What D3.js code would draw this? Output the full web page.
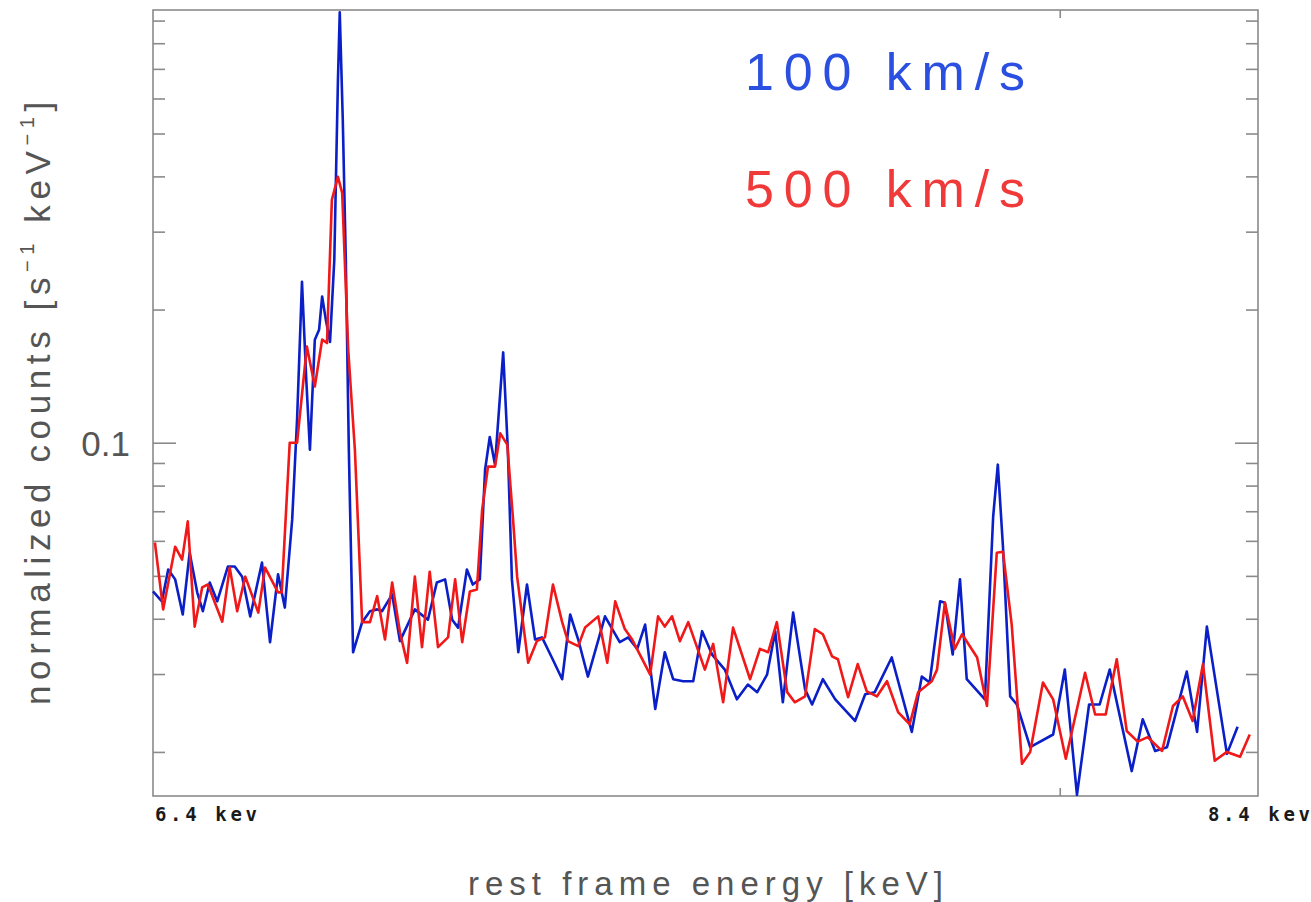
<!DOCTYPE html>
<html>
<head>
<meta charset="utf-8">
<script src="https://cdn.jsdelivr.net/npm/d3@7"></script>
<style>
  html, body { margin: 0; padding: 0; background: #fff; }
  svg { display: block; }
</style>
</head>
<body>
<svg id="chart" width="1311" height="902"></svg>
<script>
// ---------------- data ----------------
const seriesNames = ["100 km/s", "500 km/s"];

const blueEnergy = [6.400,6.414,6.424,6.435,6.447,6.458,6.470,6.479,6.490,6.502,6.519,6.530,6.542,6.555,6.574,6.587,6.600,6.611,6.623,6.631,6.639,6.646,6.652,6.660,6.667,6.672,6.678,6.685,6.692,6.698,6.701,6.706,6.711,6.716,6.723,6.738,6.751,6.763,6.771,6.788,6.801,6.826,6.848,6.863,6.877,6.889,6.899,6.914,6.924,6.936,6.945,6.953,6.962,6.976,6.984,6.991,7.002,7.017,7.031,7.043,7.060,7.078,7.092,7.106,7.123,7.153,7.179,7.194,7.210,7.224,7.242,7.259,7.274,7.292,7.310,7.326,7.344,7.367,7.389,7.409,7.426,7.444,7.459,7.473,7.492,7.514,7.527,7.547,7.570,7.607,7.626,7.644,7.676,7.714,7.733,7.748,7.768,7.777,7.792,7.806,7.819,7.854,7.870,7.879,7.889,7.903,7.916,7.942,7.987,8.010,8.034,8.058,8.079,8.099,8.143,8.165,8.190,8.214,8.254,8.275,8.295,8.336,8.358];
const blueCounts = [0.0461,0.0438,0.0517,0.0491,0.0409,0.0564,0.0459,0.0416,0.0483,0.0438,0.0525,0.0525,0.0498,0.0405,0.0536,0.0354,0.0504,0.0424,0.0670,0.113,0.231,0.139,0.0964,0.171,0.180,0.214,0.190,0.169,0.259,0.660,0.940,0.536,0.259,0.0964,0.0336,0.0393,0.0416,0.0420,0.0416,0.0454,0.0356,0.0420,0.0398,0.0483,0.0491,0.0398,0.0382,0.0517,0.0478,0.0491,0.0869,0.103,0.0892,0.160,0.0964,0.0491,0.0336,0.0478,0.0359,0.0363,0.0327,0.0292,0.0409,0.0359,0.0296,0.0405,0.0354,0.0363,0.0342,0.0388,0.0250,0.0336,0.0292,0.0289,0.0289,0.0375,0.0332,0.0307,0.0263,0.0284,0.0273,0.0299,0.0375,0.0259,0.0413,0.0277,0.0256,0.0292,0.0263,0.0235,0.0270,0.0273,0.0327,0.0222,0.0296,0.0287,0.0438,0.0435,0.0332,0.0491,0.0292,0.0263,0.0681,0.0892,0.0582,0.0267,0.0256,0.0205,0.0219,0.0307,0.0160,0.0256,0.0256,0.0307,0.0181,0.0237,0.0201,0.0205,0.0304,0.0222,0.0384,0.0198,0.0228];

const redEnergy = [6.403,6.416,6.435,6.446,6.455,6.466,6.478,6.487,6.510,6.522,6.534,6.547,6.568,6.579,6.600,6.606,6.619,6.631,6.647,6.660,6.672,6.680,6.688,6.698,6.705,6.715,6.726,6.738,6.751,6.763,6.776,6.788,6.801,6.813,6.826,6.838,6.851,6.865,6.882,6.894,6.906,6.919,6.931,6.940,6.950,6.962,6.971,6.983,6.993,7.000,7.019,7.034,7.048,7.062,7.078,7.088,7.106,7.118,7.141,7.157,7.171,7.188,7.201,7.233,7.247,7.259,7.272,7.286,7.301,7.331,7.346,7.364,7.382,7.413,7.431,7.446,7.462,7.481,7.495,7.514,7.532,7.547,7.564,7.575,7.594,7.612,7.629,7.648,7.667,7.688,7.710,7.726,7.752,7.762,7.777,7.796,7.810,7.839,7.858,7.877,7.889,7.906,7.926,7.942,7.967,7.987,8.012,8.050,8.070,8.091,8.113,8.133,8.155,8.175,8.204,8.226,8.246,8.266,8.287,8.311,8.336,8.363,8.383];
const redCounts = [0.0595,0.0420,0.0582,0.0544,0.0664,0.0384,0.0471,0.0478,0.0394,0.0522,0.0416,0.0498,0.0413,0.0522,0.0459,0.0459,0.100,0.100,0.165,0.134,0.171,0.168,0.354,0.399,0.367,0.162,0.0964,0.0393,0.0393,0.0450,0.0359,0.0483,0.0373,0.0318,0.0498,0.0345,0.0511,0.0345,0.0363,0.0491,0.0354,0.0461,0.0466,0.0706,0.0883,0.0883,0.105,0.0990,0.0670,0.0498,0.0318,0.0356,0.0363,0.0478,0.0393,0.0356,0.0347,0.0382,0.0405,0.0318,0.0438,0.0379,0.0359,0.0299,0.0405,0.0384,0.0405,0.0356,0.0393,0.0307,0.0351,0.0259,0.0382,0.0292,0.0342,0.0336,0.0393,0.0273,0.0259,0.0267,0.0379,0.0369,0.0329,0.0324,0.0266,0.0316,0.0274,0.0267,0.0289,0.0246,0.0231,0.0273,0.0289,0.0307,0.0435,0.0342,0.0369,0.0327,0.0254,0.0564,0.0567,0.0388,0.0188,0.0200,0.0287,0.0263,0.0193,0.0302,0.0243,0.0243,0.0324,0.0223,0.0211,0.0216,0.0201,0.0254,0.0267,0.0235,0.0316,0.0191,0.0200,0.0195,0.0219];

const energyDomain = [6.4, 8.4];
const countsDomain = [0.0159, 0.951];
const yMinorTicks = [0.02,0.03,0.04,0.05,0.06,0.07,0.08,0.09,0.2,0.3,0.4,0.5,0.6,0.7,0.8,0.9];
const yMajorTicks = [0.1];
const xTicks = [8.0];
const xEndLabels = ["6.4 kev", "8.4 kev"];
const xTitle = "rest frame energy [keV]";

// ---------------- layout ----------------
const svg = d3.select("#chart");
const pL = 153, pR = 1258, pT = 10, pB = 796;
const colors = ["#0a1fc8", "#f01818"];
const legendColors = ["#2b4fe0", "#f03a3a"];
const axisColor = "#8a8a8a";

const x = d3.scaleLog().domain(energyDomain).range([pL, pR]);
const y = d3.scaleLog().domain(countsDomain).range([pB, pT]);

// frame
svg.append("rect").attr("x", pL).attr("y", pT)
  .attr("width", pR - pL).attr("height", pB - pT)
  .attr("fill", "none").attr("stroke", axisColor).attr("stroke-width", 1.6);

function styleAxis(g) {
  g.select(".domain").remove();
  g.selectAll(".tick line").attr("stroke", axisColor).attr("stroke-width", 1.6);
}

// y axis ticks (left & right)
svg.append("g").attr("transform", `translate(${pL},0)`)
  .call(d3.axisLeft(y).tickValues(yMinorTicks).tickSize(-12).tickFormat(""))
  .call(styleAxis);
svg.append("g").attr("transform", `translate(${pR},0)`)
  .call(d3.axisRight(y).tickValues(yMinorTicks).tickSize(-12).tickFormat(""))
  .call(styleAxis);
svg.append("g").attr("transform", `translate(${pR},0)`)
  .call(d3.axisRight(y).tickValues(yMajorTicks).tickSize(-23).tickFormat(""))
  .call(styleAxis);
const yMaj = svg.append("g").attr("transform", `translate(${pL},0)`)
  .call(d3.axisLeft(y).tickValues(yMajorTicks).tickSize(-23).tickPadding(23).tickFormat(d3.format(".1f")))
  .call(styleAxis);
yMaj.selectAll(".tick text")
  .attr("font-family", "'Liberation Sans', Arial, sans-serif")
  .attr("font-size", 35).attr("fill", "#555").attr("dy", "0.36em");

// x axis ticks (top & bottom)
svg.append("g").attr("transform", `translate(0,${pB})`)
  .call(d3.axisBottom(x).tickValues(xTicks).tickSize(-8).tickFormat(""))
  .call(styleAxis);
svg.append("g").attr("transform", `translate(0,${pT})`)
  .call(d3.axisTop(x).tickValues(xTicks).tickSize(-8).tickFormat(""))
  .call(styleAxis);

// end labels on x
[0, 1].forEach(i => {
  svg.append("text")
    .attr("x", i === 0 ? x(energyDomain[0]) + 2 : x(energyDomain[1]) - 50)
    .attr("y", 821)
    .attr("font-family", "'DejaVu Sans Mono', monospace").attr("font-size", 19)
    .attr("font-weight", "bold")
    .attr("fill", "#1a1a1a").attr("textLength", 102).attr("lengthAdjust", "spacing")
    .text(xEndLabels[i]);
});

// x title
svg.append("text").attr("x", (pL + pR) / 2).attr("y", 895)
  .attr("text-anchor", "middle")
  .attr("font-family", "'Liberation Sans', Arial, sans-serif")
  .attr("font-size", 33).attr("fill", "#555")
  .attr("textLength", 475).attr("lengthAdjust", "spacing")
  .text(xTitle);

// y title
const yt = svg.append("text")
  .attr("transform", "translate(50,705) rotate(-90)")
  .attr("font-family", "'Liberation Sans', Arial, sans-serif")
  .attr("font-size", 35).attr("fill", "#555")
  .attr("letter-spacing", "5.6px");
yt.append("tspan").text("normalized counts  [s");
yt.append("tspan").attr("font-size", 20).attr("dy", -16).text("−1");
yt.append("tspan").attr("dy", 16).text("  keV");
yt.append("tspan").attr("font-size", 20).attr("dy", -16).text("−1");
yt.append("tspan").attr("dy", 16).text("]");

// lines
const line = d3.line().x(d => x(d[0])).y(d => y(d[1]));
const series = [
  d3.zip(blueEnergy, blueCounts),
  d3.zip(redEnergy, redCounts)
];
series.forEach((s, i) => {
  svg.append("path").datum(s).attr("d", line)
    .attr("fill", "none").attr("stroke", colors[i])
    .attr("stroke-width", 2.6).attr("stroke-linejoin", "round");
});

// legend text
svg.selectAll(".legend").data(seriesNames).enter().append("text")
  .attr("class", "legend")
  .attr("x", 745).attr("y", (d, i) => 90 + i * 117)
  .attr("font-family", "'Liberation Sans', Arial, sans-serif")
  .attr("font-size", 52)
  .attr("fill", (d, i) => legendColors[i])
  .attr("textLength", 280).attr("lengthAdjust", "spacing")
  .text(d => d);
</script>
</body>
</html>
